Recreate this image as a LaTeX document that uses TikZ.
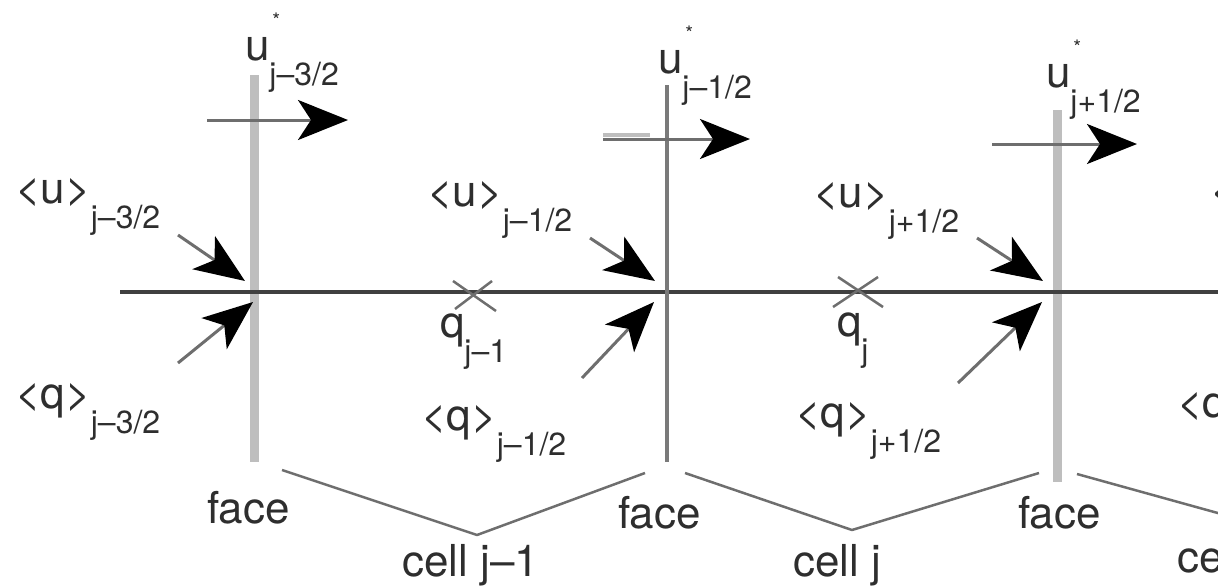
\documentclass[tikz,border=0pt]{standalone}
\usepackage{fontspec}
\setmainfont{TeX Gyre Heros}
\usetikzlibrary{arrows.meta}
\definecolor{txt}{HTML}{2E2E2E}
\definecolor{axis}{HTML}{404040}
\definecolor{lightface}{HTML}{BEBEBE}
\definecolor{midface}{HTML}{7A7A7A}
\definecolor{shaft}{HTML}{6E6E6E}
\newcommand\bigf{\fontsize{44}{48}\selectfont}
\newcommand\subf{\fontsize{32}{36}\selectfont}
\newcommand\withsub[2]{#1\raisebox{-25pt}{\subf #2}}
\newcommand\ustar[1]{u\rlap{\raisebox{33pt}{\fontsize{20}{20}\selectfont\kern3pt *}}\raisebox{-25pt}{\subf #1}}
\tikzset{
  lbl/.style={anchor=base west, inner sep=0pt, outer sep=0pt, text=txt, font=\bigf},
  axisline/.style={draw=axis, line width=3.5pt},
  lface/.style={draw=lightface, line width=9pt},
  mface/.style={draw=midface, line width=4pt},
  flux/.style={draw=shaft, line width=3pt, -{Stealth[length=50pt, width=40pt, inset=13pt, black]}},
  cellmark/.style={draw=shaft, line width=2.5pt},
  brace/.style={draw=shaft, line width=2.5pt, line join=round},
}
\begin{document}
\begin{tikzpicture}[x=1pt, y=-1pt]
\useasboundingbox (0,0) rectangle (1218,587);
\clip (0,0) rectangle (1218,587);

% main axis
\coordinate (axL) at (120,292);
\coordinate (axR) at (1225,292);
\draw[axisline] (axL) -- (axR);

% faces
\coordinate (f1t) at (254,75);  \coordinate (f1b) at (254,462);
\coordinate (f2t) at (667,85);  \coordinate (f2b) at (667,462);
\coordinate (f3t) at (1057,110); \coordinate (f3b) at (1057,482);
\draw[lface] (f1t) -- (f1b);
\draw[mface] (f2t) -- (f2b);
\draw[lface] (f3t) -- (f3b);
\draw[axisline] (240,292) -- (270,292);
\draw[axisline] (1045,292) -- (1070,292);

% u* labels
\node[lbl] (us1) at (245,60) {\ustar{j–3/2}};
\node[lbl] (us2) at (658,73) {\ustar{j–1/2}};
\node[lbl] (us3) at (1046,87) {\ustar{j+1/2}};

% horizontal flux arrows
\coordinate (h1a) at (207,120); \coordinate (h1b) at (348,120);
\coordinate (h2a) at (603,139); \coordinate (h2b) at (750,139);
\coordinate (h3a) at (992,144); \coordinate (h3b) at (1137,144);
\draw[draw=lightface, line width=4pt] (603,134.5) -- (650,134.5);
\draw[flux] (h1a) -- (h1b);
\draw[flux] (h2a) -- (h2b);
\draw[flux] (h3a) -- (h3b);

% <u> labels and arrows
\node[lbl] (ua1) at (15,203) {\withsub{<u>}{j–3/2}};
\node[lbl] (ua2) at (427,206) {\withsub{<u>}{j–1/2}};
\node[lbl] (ua3) at (813,207) {\withsub{<u>}{j+1/2}};
\node[lbl] (ua4) at (1210,205) {<u>};
\coordinate (ud1a) at (178,235);  \coordinate (ud1b) at (245,281);
\coordinate (ud2a) at (590,238);  \coordinate (ud2b) at (655,281);
\coordinate (ud3a) at (977,238);  \coordinate (ud3b) at (1043,281);
\draw[flux] (ud1a) -- (ud1b);
\draw[flux] (ud2a) -- (ud2b);
\draw[flux] (ud3a) -- (ud3b);

% <q> labels and arrows
\node[lbl] (qa1) at (15,408) {\withsub{<q>}{j–3/2}};
\node[lbl] (qa2) at (421,430) {\withsub{<q>}{j–1/2}};
\node[lbl] (qa3) at (795,427) {\withsub{<q>}{j+1/2}};
\node[lbl] (qa4) at (1177,417) {<q>};
\coordinate (qd1a) at (178,363);  \coordinate (qd1b) at (253,302);
\coordinate (qd2a) at (582,378);  \coordinate (qd2b) at (654,302);
\coordinate (qd3a) at (958,383);  \coordinate (qd3b) at (1042,302);
\draw[flux] (qd1a) -- (qd1b);
\draw[flux] (qd2a) -- (qd2b);
\draw[flux] (qd3a) -- (qd3b);

% cell centres
\draw[cellmark] (453,281) -- (496,311);
\draw[cellmark] (492,281) -- (455,309);
\draw[cellmark] (838,277) -- (883,307);
\draw[cellmark] (878,277) -- (833,307);
\node[lbl] (qc1) at (440,337) {\withsub{q}{j–1}};
\node[lbl] (qc2) at (837,336) {\withsub{q}{j}};

% face labels
\node[lbl] (fl1) at (207,523) {face};
\node[lbl] (fl2) at (618,528) {face};
\node[lbl] (fl3) at (1018,528) {face};

% cell brackets
\coordinate (c1a) at (282,470); \coordinate (c1v) at (477,535); \coordinate (c1b) at (645,473);
\coordinate (c2a) at (685,473); \coordinate (c2v) at (852,530); \coordinate (c2b) at (1039,473);
\coordinate (c3a) at (1077,474); \coordinate (c3b) at (1225,515);
\draw[brace] (c1a) -- (c1v) -- (c1b);
\draw[brace] (c2a) -- (c2v) -- (c2b);
\draw[brace] (c3a) -- (c3b);
\node[lbl] (cl1) at (402,576) {cell j–1};
\node[lbl] (cl2) at (793,576) {cell j};
\node[lbl] (cl3) at (1177,572) {ce};
\end{tikzpicture}
\end{document}
